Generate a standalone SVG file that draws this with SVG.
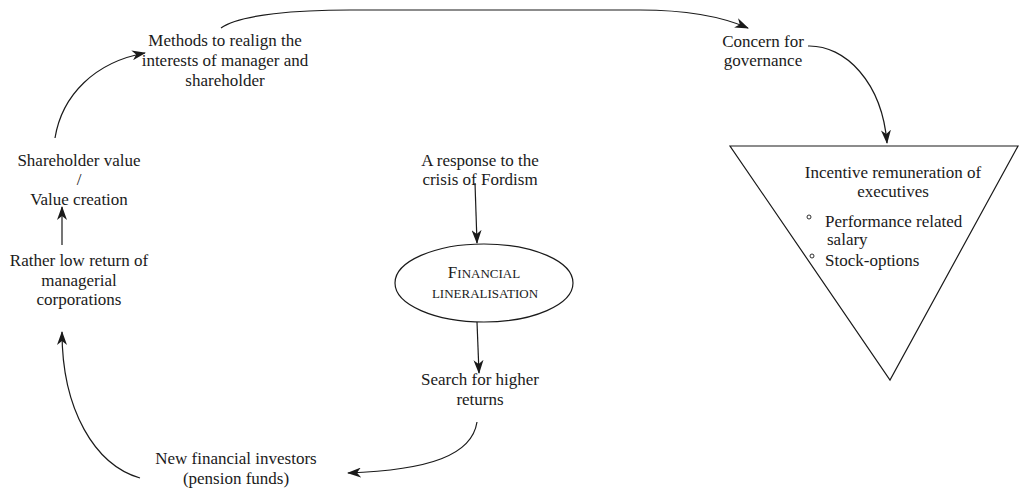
<svg xmlns="http://www.w3.org/2000/svg" width="1021" height="491" viewBox="0 0 1021 491">
<style>
text{font-family:"Liberation Serif","Times New Roman",serif;font-size:17px;fill:#1a1a1a}
.c{text-anchor:middle}
.sc{font-size:13px}
.conn path{fill:none;stroke:#1a1a1a;stroke-width:1.2}
.shape{fill:#fff;stroke:#1a1a1a;stroke-width:1.2}
</style>
<defs>
<marker id="ah" viewBox="0 0 14 10" refX="13" refY="5" markerWidth="14" markerHeight="10" markerUnits="userSpaceOnUse" orient="auto">
<path d="M0,0 L14,5 L0,10 L4,5 z" fill="#1a1a1a"/>
</marker>
</defs>
<rect width="1021" height="491" fill="#fff"/>
<g id="connectors" class="conn">
<path d="M221,28 C240,14 300,10 350,10 L640,10 C690,10 725,18 748,28" marker-end="url(#ah)"/>
<path d="M808,46 C845,45 882,82 887,143" marker-end="url(#ah)"/>
<path d="M55,138 C62,95 95,62 145,53" marker-end="url(#ah)"/>
<path d="M62,245 L62,207" marker-end="url(#ah)"/>
<path d="M140,478 C95,465 62,410 62,332" marker-end="url(#ah)"/>
<path d="M475,183 L477,243" marker-end="url(#ah)"/>
<path d="M477,322 L479,373" marker-end="url(#ah)"/>
<path d="M477,422 C472,455 430,470 348,473" marker-end="url(#ah)"/>
</g>
<g id="methods">
<text class="c" x="225" y="46">Methods to realign the</text>
<text class="c" x="225" y="66">interests of manager and</text>
<text class="c" x="225" y="86">shareholder</text>
</g>
<g id="concern">
<text class="c" x="763" y="47">Concern for</text>
<text class="c" x="763" y="66">governance</text>
</g>
<g id="incentive">
<polygon class="shape" points="730,146 1018,146 890,380"/>
<text class="c" x="893" y="178">Incentive remuneration of</text>
<text class="c" x="893" y="197">executives</text>
<circle cx="809" cy="217" r="2" fill="none" stroke="#1a1a1a" stroke-width="0.9"/>
<text x="825" y="227">Performance related</text>
<text x="827" y="245">salary</text>
<circle cx="812" cy="256" r="2" fill="none" stroke="#1a1a1a" stroke-width="0.9"/>
<text x="825" y="266">Stock-options</text>
</g>
<g id="shareholder">
<text class="c" x="79" y="166">Shareholder value</text>
<text class="c" x="79" y="185">/</text>
<text class="c" x="79" y="205">Value creation</text>
</g>
<g id="lowreturn">
<text class="c" x="79" y="266">Rather low return of</text>
<text class="c" x="79" y="286">managerial</text>
<text class="c" x="79" y="305">corporations</text>
</g>
<g id="response">
<text class="c" x="480" y="166">A response to the</text>
<text class="c" x="480" y="185">crisis of Fordism</text>
</g>
<g id="liberalisation">
<ellipse class="shape" cx="484" cy="283" rx="89" ry="39"/>
<text class="c" x="484" y="278"><tspan>F</tspan><tspan class="sc">INANCIAL</tspan></text>
<text class="c sc" x="485" y="298">LINERALISATION</text>
</g>
<g id="search">
<text class="c" x="480" y="385">Search for higher</text>
<text class="c" x="480" y="405">returns</text>
</g>
<g id="investors">
<text class="c" x="236" y="464">New financial investors</text>
<text class="c" x="236" y="484">(pension funds)</text>
</g>
</svg>
